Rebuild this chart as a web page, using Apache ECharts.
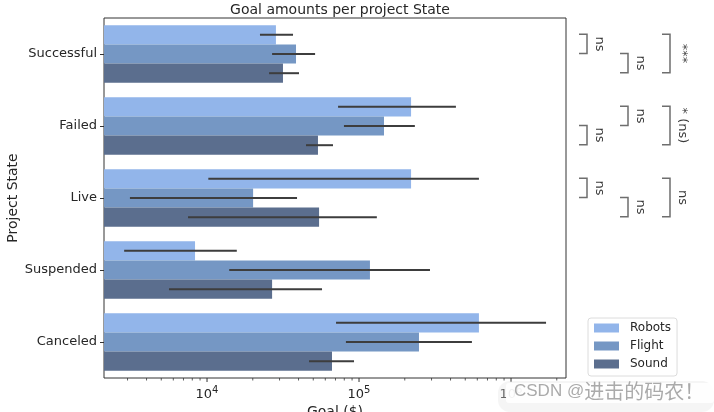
<!DOCTYPE html>
<html>
<head>
<meta charset="utf-8">
<script src="https://cdn.jsdelivr.net/npm/echarts@6/dist/echarts.min.js"></script>
<style>html,body{margin:0;padding:0;background:#fff}#c{width:714px;height:412px}</style>
</head>
<body>
<div id="c"></div>
<script>
// ---- data ----
const categories = ['Successful', 'Failed', 'Live', 'Suspended', 'Canceled'];
const seriesNames = ['Robots', 'Flight', 'Sound'];
const robotsVals = [28400, 220000, 220000, 8340, 615000];
const flightVals = [38500, 146000, 20100, 118000, 248000];
const soundVals  = [31600, 53700, 54600, 26800, 66400];
const robotsLow  = [22300, 72800, 10200, 2850, 70600];
const robotsHigh = [36800, 434000, 615000, 15700, 1700000];
const flightLow  = [26800, 79600, 3110, 14000, 82000];
const flightHigh = [51400, 233000, 39100, 293000, 553000];
const soundLow   = [25600, 44800, 7500, 5620, 46900];
const soundHigh  = [40300, 67400, 131000, 57100, 92700];
const majorTicks = [10000, 100000, 1000000];
const minorTicks = [3000, 4000, 5000, 6000, 7000, 8000, 9000,
  20000, 30000, 40000, 50000, 60000, 70000, 80000, 90000,
  200000, 300000, 400000, 500000, 600000, 700000, 800000, 900000, 2000000];
// significance annotations
const annCat  = [0, 0, 0, 1, 1, 1, 2, 2, 2];
const annFrom = [0, 1, 0, 1, 0, 0, 0, 1, 0];
const annTo   = [1, 2, 2, 2, 1, 2, 1, 2, 2];
const annCol  = [0, 1, 2, 0, 1, 2, 0, 1, 2];
const annText = ['ns', 'ns', '***', 'ns', 'ns', '* (ns)', 'ns', 'ns', 'ns'];

const colors = ['#92b5ea', '#7597c4', '#5b6e8e'];
const FONT = 'DejaVu Sans';
const values = [robotsVals, flightVals, soundVals];
const lows = [robotsLow, flightLow, soundLow];
const highs = [robotsHigh, flightHigh, soundHigh];

function barOffset(api, s) {
  const band = api.size([0, 1])[1];
  return (s - 1) * band * 0.8 / 3;
}

const series = [];
seriesNames.forEach((n, s) => {
  series.push({
    name: n, type: 'bar', data: values[s],
    barGap: '0%', barCategoryGap: '20%',
    itemStyle: { color: colors[s] },
    z: 2
  });
});
seriesNames.forEach((n, s) => {
  series.push({
    type: 'custom', clip: false, z: 5, silent: true,
    encode: { x: [0, 1], y: 2 },
    data: categories.map((c, i) => [lows[s][i], highs[s][i], i]),
    renderItem: function (params, api) {
      const a = api.coord([api.value(0), api.value(2)]);
      const b = api.coord([api.value(1), api.value(2)]);
      const y = a[1] + barOffset(api, s);
      return { type: 'line', shape: { x1: a[0], y1: y, x2: b[0], y2: y },
        style: { stroke: '#3d3d3d', lineWidth: 2 } };
    }
  });
});
// axis ticks (major + minor) on log axis
series.push({
  type: 'custom', clip: false, z: 5, silent: true,
  encode: { x: 0, y: 1 },
  data: majorTicks.map(v => [v, 0, 1]).concat(minorTicks.map(v => [v, 0, 0])),
  renderItem: function (params, api) {
    const p = api.coord([api.value(0), 0]);
    const cs = params.coordSys;
    const y0 = cs.y + cs.height;
    const len = api.value(2) ? 4 : 2.5;
    return { type: 'line', shape: { x1: p[0], y1: y0, x2: p[0], y2: y0 + len },
      style: { stroke: '#333', lineWidth: api.value(2) ? 1 : 0.8 } };
  }
});
// significance brackets
series.push({
  type: 'custom', clip: false, z: 5, silent: true,
  encode: { x: 0, y: 1 },
  data: annCat.map(c => [10000, c]),
  renderItem: function (params, api) {
    const i = params.dataIndex;
    const cs = params.coordSys;
    const c = api.coord([10000, annCat[i]]);
    const y1 = c[1] + barOffset(api, annFrom[i]) - 0.5;
    const y2 = c[1] + barOffset(api, annTo[i]) - 0.5;
    const xr = cs.x + cs.width + [21, 62, 104][annCol[i]];
    const xl = xr - 8;
    return { type: 'group', children: [
      { type: 'polyline', shape: { points: [[xl, y1], [xr, y1], [xr, y2], [xl, y2]] },
        style: { stroke: '#6e6e6e', lineWidth: 1.5, fill: null } },
      { type: 'text', x: xr + 12, y: (y1 + y2) / 2, rotation: -Math.PI / 2,
        style: { text: annText[i], fill: '#3a3a3a', fontSize: 13, fontFamily: FONT,
          align: 'center', verticalAlign: 'middle' } }
    ] };
  }
});

function isPow10(v) {
  const l = Math.log10(v);
  return Math.abs(l - Math.round(l)) < 1e-6;
}

const chart = echarts.init(document.getElementById('c'), null, { renderer: 'canvas' });
chart.setOption({
  animation: false,
  backgroundColor: '#fff',
  title: {
    text: 'Goal amounts per project State', left: 335, top: -2, textAlign: 'center',
    textStyle: { fontFamily: FONT, fontSize: 14, fontWeight: 'normal', color: '#262626' }
  },
  grid: { left: 104, right: 148, top: 18, bottom: 34, show: true,
    containLabel: false, outerBoundsMode: 'none',
    borderColor: '#333', borderWidth: 1, backgroundColor: 'transparent' },
  legend: {
    data: seriesNames, orient: 'vertical', left: 588, top: 318,
    icon: 'rect', itemWidth: 25, itemHeight: 9, itemGap: 6,
    padding: [4, 6, 6, 6], backgroundColor: '#fff',
    borderColor: '#dcdcdc', borderWidth: 1, borderRadius: 3,
    textStyle: { fontFamily: FONT, fontSize: 12, color: '#262626', padding: [0, 0, 0, 6] }
  },
  xAxis: {
    type: 'log', logBase: 10, min: 2100, max: 2300000,
    name: 'Goal ($)', nameLocation: 'middle', nameGap: 27, nameMoveOverlap: false,
    nameTextStyle: { fontFamily: FONT, fontSize: 14, color: '#262626' },
    axisLine: { show: false }, axisTick: { show: false }, splitLine: { show: false },
    minorTick: { show: false },
    axisLabel: {
      margin: 7, showMinLabel: false, showMaxLabel: false,
      formatter: function (v) {
        if (!isPow10(v)) return '';
        return '{b|10}{s|' + Math.round(Math.log10(v)) + '}';
      },
      rich: {
        b: { fontFamily: FONT, fontSize: 13, color: '#262626', lineHeight: 16, verticalAlign: 'bottom' },
        s: { fontFamily: FONT, fontSize: 10, color: '#262626', lineHeight: 16, verticalAlign: 'top' }
      }
    }
  },
  yAxis: {
    type: 'category', data: categories, inverse: true,
    name: 'Project State', nameLocation: 'middle', nameGap: 84, nameMoveOverlap: false,
    nameTextStyle: { fontFamily: FONT, fontSize: 14, color: '#262626' },
    axisLine: { show: false },
    axisTick: { show: true, alignWithLabel: true, length: 4, lineStyle: { color: '#333' } },
    axisLabel: { fontFamily: FONT, fontSize: 13, color: '#262626', margin: 7 },
    splitLine: { show: false }
  },
  series: series,
  graphic: [
    { type: 'rect', left: 498, top: 381, shape: { width: 216, height: 31, r: 12 },
      style: { fill: 'rgba(225,225,225,0.35)' }, z: 100 },
    { type: 'rect', left: 506, top: 383, shape: { width: 208, height: 20, r: 3 },
      style: { fill: 'rgba(255,255,255,0.9)' }, z: 100 },
    { type: 'text', left: 514, top: 381,
      style: { text: '{a|CSDN @}{b|进击的码农！}',
        rich: {
          a: { fontFamily: 'Liberation Sans', fontSize: 17, fill: '#aaaaaa', lineHeight: 24 },
          b: { fontFamily: 'Noto Sans CJK SC', fontSize: 20, fill: '#aaaaaa', lineHeight: 24 }
        } }, z: 101 }
  ]
});
</script>
</body>
</html>
